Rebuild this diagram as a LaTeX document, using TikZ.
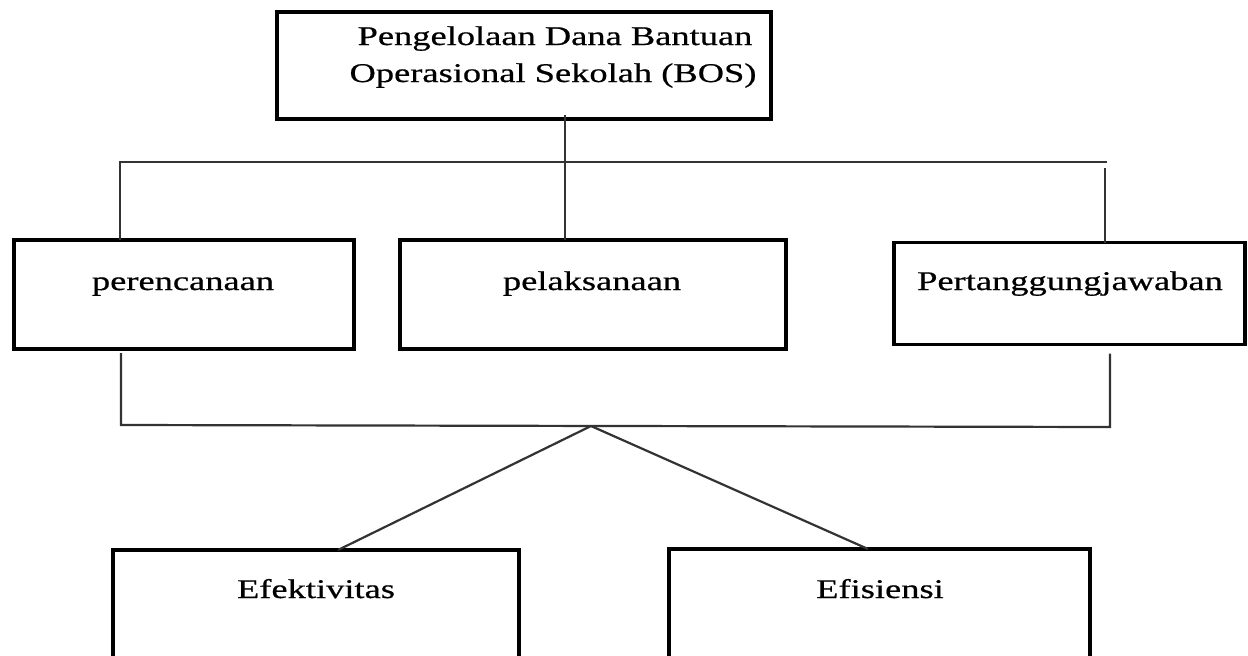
\documentclass[tikz,border=0pt]{standalone}
\usepackage{fontspec}
\setmainfont[FakeStretch=1.35,FakeBold=0.6]{Liberation Serif}
\begin{document}
\begin{tikzpicture}[x=1pt,y=-1pt,
  box/.style={draw=black, line width=3.8pt, rectangle, inner sep=0pt, outer sep=0pt},
  lbl/.style={anchor=base, inner sep=0pt, font=\fontsize{27}{37}\selectfont},
  conn/.style={draw=black!80, line width=2.2pt}]
\clip (0,0) rectangle (1248,656);
\fill[white] (0,0) rectangle (1248,656);
% boxes
\node[box, minimum width=494pt, minimum height=107pt] (top) at (524,65.5) {};
\node[box, minimum width=340pt, minimum height=109pt] (per) at (184,294.5) {};
\node[box, minimum width=386pt, minimum height=109pt] (pel) at (593,294.5) {};
\node[box, minimum width=351pt, minimum height=102pt] (pert) at (1069.5,293.5) {};
\node[box, minimum width=406pt, minimum height=112pt] (efek) at (316,606) {};
\node[box, minimum width=421pt, minimum height=113pt] (efis) at (879.5,605.5) {};
% labels
\node[lbl] (t1) at (555,45) {Pengelolaan Dana Bantuan};
\node[lbl] (t2) at (553,82) {Operasional Sekolah (BOS)};
\node[lbl] (lper) at (183,290) {perencanaan};
\node[lbl] (lpel) at (592,290) {pelaksanaan};
\node[lbl] (lpert) at (1070,290) {Pertanggungjawaban};
\node[lbl] (lefek) at (316,598) {Efektivitas};
\node[lbl] (lefis) at (880,598) {Efisiensi};
% connector coordinates
\coordinate (vx) at (565,162);
\coordinate (hl) at (120,162);
\coordinate (hr) at (1107,162);
\coordinate (rt) at (1105,168);
\coordinate (bl) at (121,425);
\coordinate (br) at (1110,427);
\coordinate (apex) at (591,426);
% top tree
\draw[conn] ([yshift=4pt]top.south -| vx) -- (pel.north -| vx);
\draw[conn] (per.north -| hl) -- (hl) -- (hr);
\draw[conn] (rt) -- (pert.north -| rt);
% bottom bracket
\draw[conn] ([yshift=-4pt]per.south -| bl) -- (bl) -- (br) -- ([yshift=-9pt]pert.south -| br);
\draw[conn] (apex) -- (efek.north -| 338,0);
\draw[conn] (apex) -- (efis.north -| 868,0);
\end{tikzpicture}
\end{document}
